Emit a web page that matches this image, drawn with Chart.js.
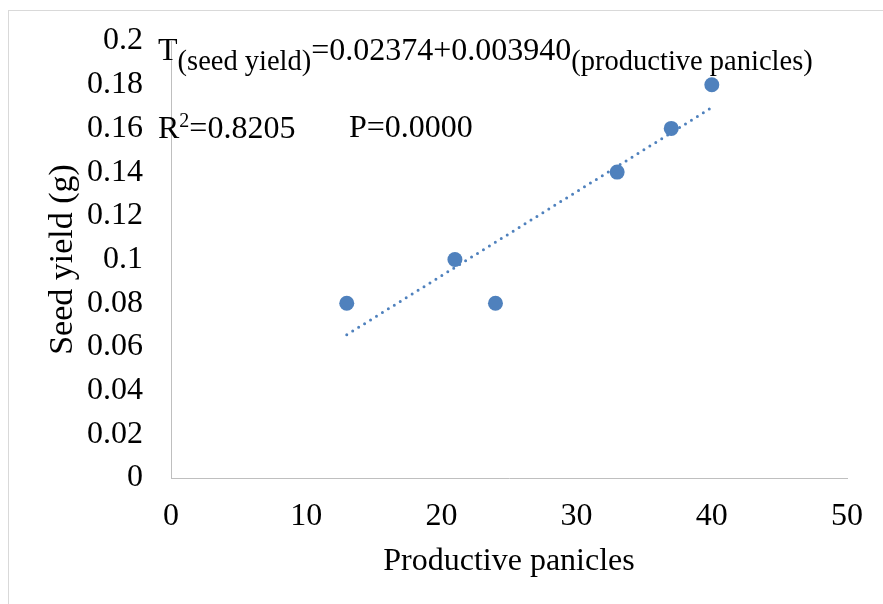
<!DOCTYPE html>
<html>
<head>
<meta charset="utf-8">
<script src="https://cdn.jsdelivr.net/npm/chart.js@4.4.1/dist/chart.umd.min.js"></script>
<style>
  html, body { margin: 0; padding: 0; background: #fff; }
  canvas { display: block; }
</style>
</head>
<body>
<canvas id="chart" width="883" height="604"></canvas>
<script>
// productive panicles vs seed yield per plant
const panicles = [13, 21, 24, 33, 37, 40];
const seedYield = [0.08, 0.10, 0.08, 0.14, 0.16, 0.18];

const xTicks = [0, 10, 20, 30, 40, 50];
const yTicks = [0, 0.02, 0.04, 0.06, 0.08, 0.1, 0.12, 0.14, 0.16, 0.18, 0.2];

const xTitle = 'Productive panicles';
const yTitle = 'Seed yield (g)';

const blue = '#4F81BD';
const axisGrey = '#BFBFBF';
const serif = "'Liberation Serif', 'Times New Roman', serif";

// least squares line through the points, drawn over the x range of the data
function linearFit(xs, ys) {
    const n = xs.length;
    const mx = xs.reduce((a, b) => a + b, 0) / n;
    const my = ys.reduce((a, b) => a + b, 0) / n;
    let sxy = 0, sxx = 0;
    xs.forEach((x, i) => {
        sxy += (x - mx) * (ys[i] - my);
        sxx += (x - mx) * (x - mx);
    });
    const slope = sxy / sxx;
    return { slope: slope, intercept: my - slope * mx };
}

const fit = linearFit(panicles, seedYield);
const xMin = Math.min(...panicles);
const xMax = Math.max(...panicles);
const trend = [
    { x: xMin, y: fit.intercept + fit.slope * xMin },
    { x: xMax, y: fit.intercept + fit.slope * xMax }
];

// pieces of text with their own size and baseline shift
function drawRuns(ctx, x, y, runs) {
    runs.forEach(run => {
        ctx.font = `${run.size}px ${serif}`;
        ctx.fillText(run.text, x, y + (run.shift || 0));
        x += ctx.measureText(run.text).width;
    });
}

const outerFrame = {
    id: 'outerFrame',
    beforeDraw(chart) {
        const ctx = chart.ctx;
        ctx.save();
        ctx.fillStyle = '#fff';
        ctx.fillRect(0, 0, chart.width, chart.height);
        ctx.strokeStyle = '#D9D9D9';
        ctx.lineWidth = 1;
        ctx.strokeRect(8.5, 10.5, chart.width + 20, chart.height + 20);
        ctx.restore();
    }
};

const equationText = {
    id: 'equationText',
    afterDraw(chart) {
        const ctx = chart.ctx;
        const area = chart.chartArea;
        const x0 = area.left - 13;
        ctx.save();
        ctx.fillStyle = '#000';
        ctx.textBaseline = 'alphabetic';
        ctx.textAlign = 'left';

        drawRuns(ctx, x0, area.top + 19, [
            { text: 'T', size: 32 },
            { text: '(seed yield)', size: 28.5, shift: 10 },
            { text: '=0.02374+0.003940', size: 32 },
            { text: '(productive panicles)', size: 28.5, shift: 10 }
        ]);

        drawRuns(ctx, x0, area.top + 97, [
            { text: 'R', size: 32 },
            { text: '2', size: 20, shift: -11 },
            { text: '=0.8205', size: 32 }
        ]);

        drawRuns(ctx, x0 + 191, area.top + 96, [
            { text: 'P=0.0000', size: 32 }
        ]);
        ctx.restore();
    }
};

new Chart(document.getElementById('chart'), {
    type: 'scatter',
    data: {
        datasets: [
            {
                label: 'Seed yield',
                data: panicles.map((x, i) => ({ x: x, y: seedYield[i] })),
                backgroundColor: blue,
                borderWidth: 0,
                pointRadius: 7.5,
                pointHoverRadius: 7.5,
                order: 0
            },
            {
                type: 'line',
                label: 'Linear trend',
                data: trend,
                borderColor: blue,
                borderWidth: 3,
                borderDash: [0, 7],
                borderCapStyle: 'round',
                pointRadius: 0,
                fill: false,
                order: 1
            }
        ]
    },
    options: {
        responsive: false,
        animation: false,
        events: [],
        layout: {
            padding: { left: 0, top: 41, right: 36, bottom: 0 }
        },
        plugins: {
            legend: { display: false },
            tooltip: { enabled: false }
        },
        scales: {
            x: {
                type: 'linear',
                min: xTicks[0],
                max: xTicks[xTicks.length - 1],
                afterBuildTicks: scale => { scale.ticks = xTicks.map(v => ({ value: v })); },
                afterFit: scale => { scale.height = 126; },
                grid: { display: true, color: 'rgba(0,0,0,0)', drawTicks: false },
                border: { display: true, color: axisGrey, width: 1 },
                ticks: {
                    color: '#000',
                    padding: 19,
                    maxRotation: 0,
                    font: { family: serif, size: 32 }
                },
                title: {
                    display: true,
                    text: xTitle,
                    color: '#000',
                    padding: { top: 0, bottom: 23 },
                    font: { family: serif, size: 32 }
                }
            },
            y: {
                type: 'linear',
                min: yTicks[0],
                max: yTicks[yTicks.length - 1],
                afterBuildTicks: scale => { scale.ticks = yTicks.map(v => ({ value: v })); },
                afterFit: scale => {
                    // the label gap should not push the plot area down
                    scale.width = 171;
                    scale.paddingTop = 0;
                    scale.paddingBottom = 0;
                },
                grid: { display: true, color: 'rgba(0,0,0,0)', drawTicks: false },
                border: { display: true, color: axisGrey, width: 1 },
                ticks: {
                    color: '#000',
                    padding: 28,
                    font: { family: serif, size: 32 },
                    callback: v => String(Number(v.toFixed(2)))
                },
                title: {
                    display: true,
                    text: yTitle,
                    color: '#000',
                    padding: { top: 43, bottom: 0 },
                    font: { family: serif, size: 34 }
                }
            }
        }
    },
    plugins: [outerFrame, equationText]
});
</script>
</body>
</html>
